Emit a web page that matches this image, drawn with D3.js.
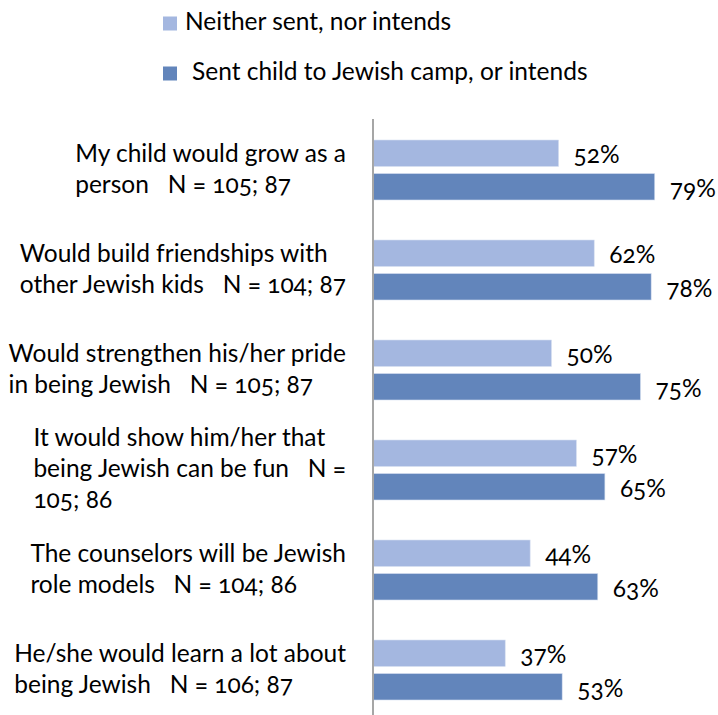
<!DOCTYPE html>
<html>
<head>
<meta charset="utf-8">
<script src="https://cdn.jsdelivr.net/npm/d3@7"></script>
<style>
  html, body { margin: 0; padding: 0; background: #fff; }
  svg { display: block; font-family: Lato, "Open Sans", sans-serif; font-variant-numeric: oldstyle-nums; }
  text { white-space: pre; fill: #000; }
</style>
</head>
<body>
<svg id="chart" width="718" height="715"></svg>
<script>
const categories = [
  "My child would grow as a person",
  "Would build friendships with other Jewish kids",
  "Would strengthen his/her pride in being Jewish",
  "It would show him/her that being Jewish can be fun",
  "The counselors will be Jewish role models",
  "He/she would learn a lot about being Jewish"
];
const categoryLines = [
  ["My child would grow as a", "person   N = 105; 87"],
  ["Would build friendships with", "other Jewish kids   N = 104; 87"],
  ["Would strengthen his/her pride", "in being Jewish   N = 105; 87"],
  ["It would show him/her that", "being Jewish can be fun   N =", "105; 86"],
  ["The counselors will be Jewish", "role models   N = 104; 86"],
  ["He/she would learn a lot about", "being Jewish   N = 106; 87"]
];
const seriesNames = ["Neither sent, nor intends", "Sent child to Jewish camp, or intends"];
const neitherValues = [0.52, 0.62, 0.50, 0.57, 0.44, 0.37];
const sentValues = [0.79, 0.78, 0.75, 0.65, 0.63, 0.53];
const seriesColors = ["#a4b7e0", "#6285bb"];

const svg = d3.select("#chart");
const fontSize = 24.5;

const x = d3.scaleLinear().domain([0, 1]).range([373.5, 729.5]);
const y = d3.scaleBand().domain(categories).range([120, 720]).paddingInner(0.4).paddingOuter(0.2);
const ySub = d3.scaleBand().domain([0, 1]).range([0, y.bandwidth()]).paddingInner(0.21);

const series = [neitherValues, sentValues];

// bars
series.forEach((vals, si) => {
  const g = svg.append("g");
  g.selectAll("rect").data(categories).join("rect")
    .attr("x", x(0))
    .attr("y", (c) => y(c) + ySub(si))
    .attr("width", (c, i) => x(vals[i]) - x(0))
    .attr("height", ySub.bandwidth())
    .attr("fill", seriesColors[si])
    .attr("stroke", "#d7e0f0")
    .attr("stroke-width", 0.6);
  g.selectAll("text").data(categories).join("text")
    .attr("x", (c, i) => x(vals[i]) + 15)
    .attr("y", (c) => y(c) + ySub(si) + ySub.bandwidth() / 2 + 10)
    .attr("font-size", fontSize)
    .text((c, i) => d3.format(".0%")(vals[i]));
});

// vertical axis line
const yAxis = d3.axisLeft(y).tickSize(0).tickFormat("");
const axG = svg.append("g").attr("transform", `translate(${x(0) - 0.5},0)`).call(yAxis);
axG.select(".domain").attr("d", `M0,119V${y.range()[1]}`).attr("stroke", "#a6a6a6").attr("stroke-width", 2);

// category labels: lines left aligned, block right-aligned
const rightEdge = 346;
const lineH = 31;
categories.forEach((c, i) => {
  const lines = categoryLines[i];
  const g = svg.append("g");
  const cy = y(c) + y.bandwidth() / 2;
  const texts = lines.map((ln, k) => g.append("text")
    .attr("font-size", fontSize)
    .attr("y", cy + (k - (lines.length - 1) / 2) * lineH + 7)
    .text(ln));
  const maxW = d3.max(texts, t => t.node().getComputedTextLength());
  texts.forEach(t => t.attr("x", rightEdge - maxW));
});

// legend
const legend = svg.append("g");
const legendItems = [
  {sq: [163, 16.5], tx: [185, 30]},
  {sq: [163, 66.5], tx: [192, 80]}
];
seriesNames.forEach((n, i) => {
  legend.append("rect").attr("x", legendItems[i].sq[0]).attr("y", legendItems[i].sq[1])
    .attr("width", 14).attr("height", 14).attr("fill", seriesColors[i]);
  legend.append("text").attr("x", legendItems[i].tx[0]).attr("y", legendItems[i].tx[1])
    .attr("font-size", fontSize).text(n);
});
</script>
</body>
</html>
